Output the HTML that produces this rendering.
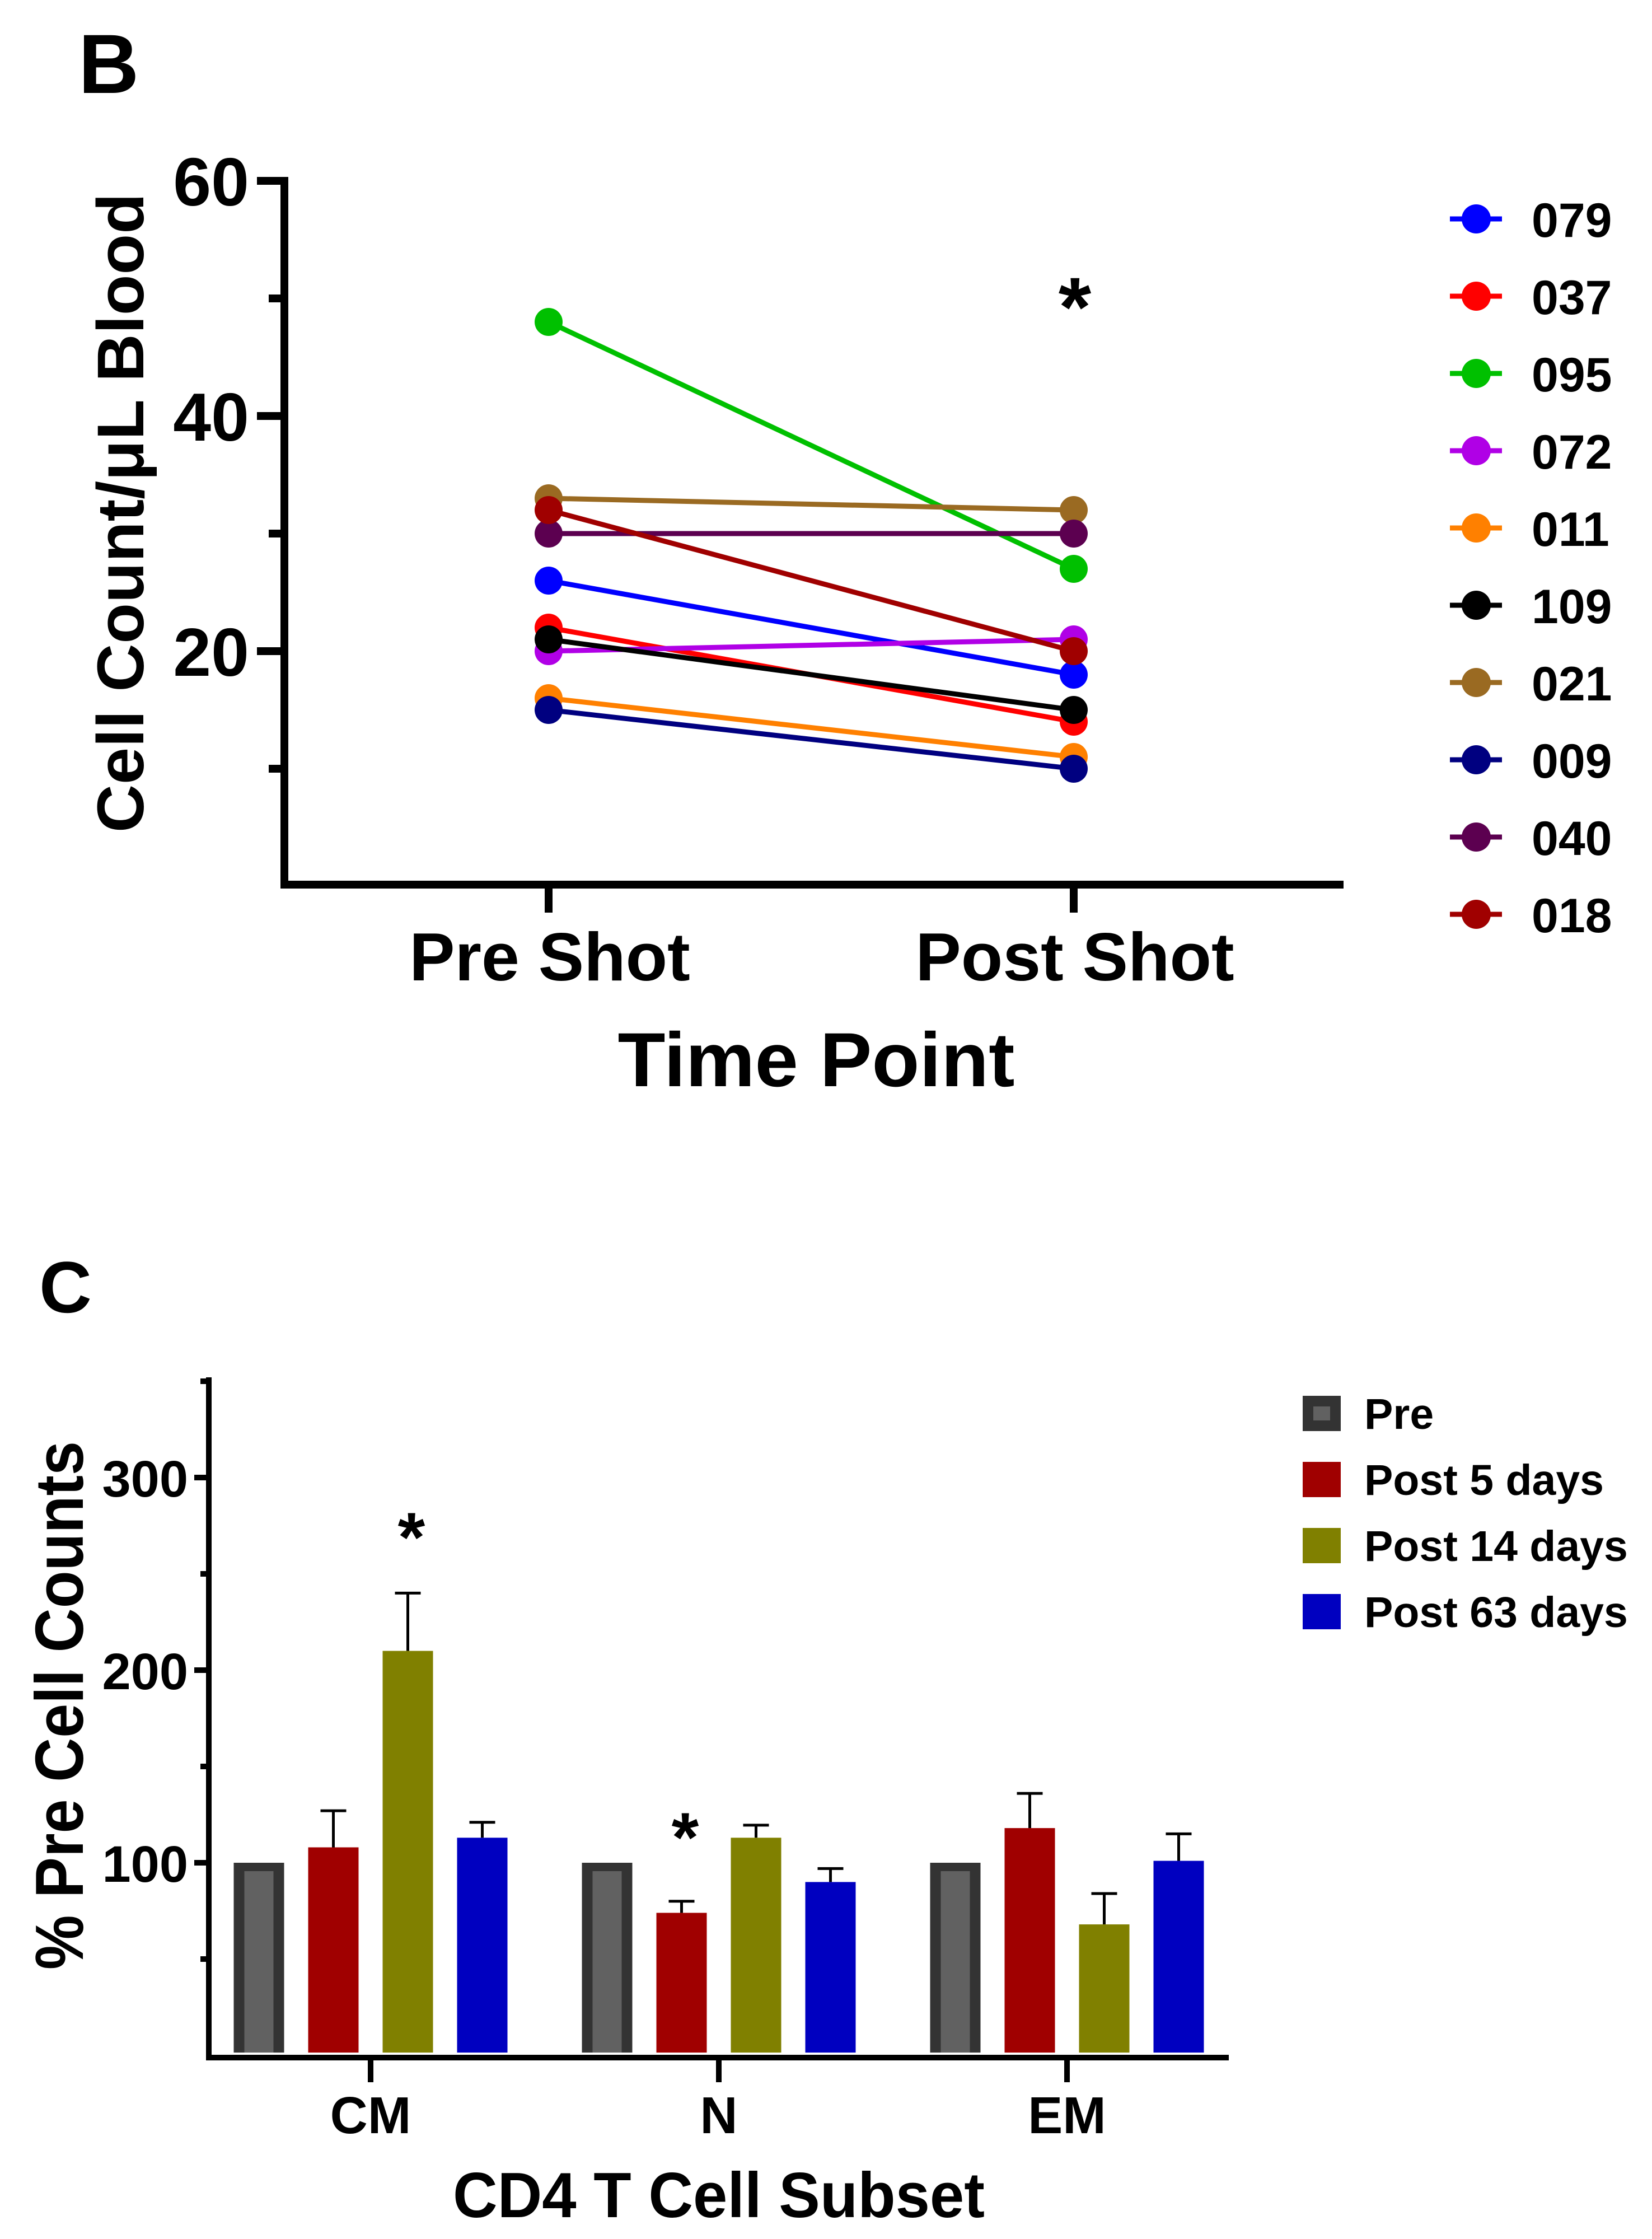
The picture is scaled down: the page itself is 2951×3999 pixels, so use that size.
<!DOCTYPE html>
<html>
<head>
<meta charset="utf-8">
<style>
html,body{margin:0;padding:0;background:#fff;}
svg{display:block;}
text{font-family:"Liberation Sans",Arial,sans-serif;font-weight:bold;fill:#000;}
</style>
</head>
<body>
<svg id="fig" xmlns="http://www.w3.org/2000/svg" width="2951" height="3999" viewBox="0 0 2951 3999">
  <rect x="0" y="0" width="2951" height="3999" fill="#fff"/>
  <g id="panelB">
    <text x="140" y="166" font-size="150">B</text>
    <text transform="translate(256,916) rotate(-90)" text-anchor="middle" font-size="118" textLength="1142" lengthAdjust="spacingAndGlyphs">Cell Count/μL Blood</text>
    <text x="1458" y="1940" text-anchor="middle" font-size="137" textLength="709" lengthAdjust="spacingAndGlyphs">Time Point</text>
    <text x="1920" y="600" text-anchor="middle" font-size="150">*</text>
  </g>
  <g id="panelC">
    <text x="70" y="2344" font-size="130">C</text>
    <text transform="translate(148,3046) rotate(-90)" text-anchor="middle" font-size="122" textLength="944" lengthAdjust="spacingAndGlyphs">% Pre Cell Counts</text>
    <text x="1284" y="3960" text-anchor="middle" font-size="114" textLength="950" lengthAdjust="spacingAndGlyphs">CD4 T Cell Subset</text>
  </g>
</svg>
<script>
// ---------- Panel B data ----------
const bCategories = ["Pre Shot", "Post Shot"];
const bSubjects = ["079","037","095","072","011","109","021","009","040","018"];
const bPre  = [26, 22, 48, 20, 16, 21, 33, 15, 30, 32];
const bPost = [18, 14, 27, 21, 11, 15, 32, 10, 30, 20];
const bColors = ["#0000ff","#ff0000","#00c000","#b000e6","#ff8000","#000000","#9a6a22","#000080","#5c0050","#a00000"];
const bMajorTicks = [20, 40, 60];
const bMinorTicks = [10, 30, 50];

// ---------- Panel C data ----------
const cGroups = ["CM", "N", "EM"];
const cSeries = ["Pre", "Post 5 days", "Post 14 days", "Post 63 days"];
const cPre    = [100, 100, 100];
const cPost5  = [108, 74, 118];
const cPost14 = [210, 113, 68];
const cPost63 = [113, 90, 101];
const cErr5   = [19, 6, 18];
const cErr14  = [30, 6.5, 16];
const cErr63  = [8, 7, 14];
const cColors = ["#333333", "#a00000", "#808000", "#0000c0"];
const cMajorTicks = [100, 200, 300];
const cMinorTicks = [50, 150, 250, 350];

const NS = "http://www.w3.org/2000/svg";
function mk(tag, attrs, parent){
  const e = document.createElementNS(NS, tag);
  for (const k in attrs) e.setAttribute(k, attrs[k]);
  parent.appendChild(e);
  return e;
}

// ---------- Panel B ----------
const gB = document.getElementById("panelB");
const bY = v => 1583 - 21 * v;
const bX = i => [980, 1918][i];

let el;
el = mk("line", {x1:508, y1:316, x2:508, y2:1587, stroke:"#000", "stroke-width":14}, gB);


el = mk("line", {x1:501, y1:1580, x2:2400, y2:1580, stroke:"#000", "stroke-width":14}, gB);



bMajorTicks.forEach(v => {
  const t = mk("line", {x1:459, y1:bY(v), x2:508, y2:bY(v), stroke:"#000", "stroke-width":14}, gB);
  
  
  const l = mk("text", {x:445, y:bY(v)+44, "text-anchor":"end", "font-size":122}, gB);
  l.textContent = String(v);
  
  
});
bMinorTicks.forEach(v => {
  const t = mk("line", {x1:480, y1:bY(v), x2:508, y2:bY(v), stroke:"#000", "stroke-width":14}, gB);
  
  
});
bCategories.forEach((c, i) => {
  const t = mk("line", {x1:bX(i), y1:1580, x2:bX(i), y2:1630, stroke:"#000", "stroke-width":14}, gB);
  
  
  const l = mk("text", {x:bX(i)+2, y:1751, "text-anchor":"middle", "font-size":122}, gB);
  l.textContent = c;
  
  
});

bSubjects.forEach((s, i) => {
  const g = mk("g", {}, gB);
  
  
  const ln = mk("line", {x1:bX(0), y1:bY(bPre[i]), x2:bX(1), y2:bY(bPost[i]), stroke:bColors[i], "stroke-width":9}, g);
  
  
  const p1 = mk("circle", {cx:bX(0), cy:bY(bPre[i]), r:25, fill:bColors[i]}, g);
  
  
  const p2 = mk("circle", {cx:bX(1), cy:bY(bPost[i]), r:25, fill:bColors[i]}, g);
  
  

  const ly = 391 + 138 * i;
  const lg = mk("g", {}, gB);
  
  
  mk("line", {x1:2590, y1:ly, x2:2683, y2:ly, stroke:bColors[i], "stroke-width":9}, lg);
  mk("circle", {cx:2637, cy:ly, r:26, fill:bColors[i]}, lg);
  const lt = mk("text", {x:2736, y:ly+32, "font-size":86}, lg);
  lt.textContent = s;
  
  
});

// ---------- Panel C ----------
const gC = document.getElementById("panelC");
const cY = v => 3671 - 3.44 * v;
const cGroupX = i => 662 + 622 * i;
const barW = 90, barStep = 133;

el = mk("line", {x1:373, y1:2460, x2:373, y2:3680, stroke:"#000", "stroke-width":10}, gC);


el = mk("line", {x1:368, y1:3675, x2:2195, y2:3675, stroke:"#000", "stroke-width":10}, gC);



cMajorTicks.forEach(v => {
  const t = mk("line", {x1:347, y1:cY(v), x2:373, y2:cY(v), stroke:"#000", "stroke-width":10}, gC);
  
  
  const l = mk("text", {x:336, y:cY(v)+34, "text-anchor":"end", "font-size":92}, gC);
  l.textContent = String(v);
  
  
});
cMinorTicks.forEach(v => {
  const t = mk("line", {x1:358, y1:cY(v), x2:373, y2:cY(v), stroke:"#000", "stroke-width":10}, gC);
  
  
});

const cVals = [cPre, cPost5, cPost14, cPost63];
const cErrs = [null, cErr5, cErr14, cErr63];
cGroups.forEach((g, gi) => {
  const cx = cGroupX(gi);
  const t = mk("line", {x1:cx, y1:3675, x2:cx, y2:3719, stroke:"#000", "stroke-width":10}, gC);
  
  
  const l = mk("text", {x:cx, y:3810, "text-anchor":"middle", "font-size":93}, gC);
  l.textContent = g;
  
  

  cSeries.forEach((s, si) => {
    const v = cVals[si][gi];
    const x0 = cx - 1.5 * barStep + si * barStep - barW / 2;
    const top = cY(v), h = cY(0) - cY(v) - 5;
    if (si === 0) {
      const b = mk("rect", {x:x0, y:top, width:barW, height:h, fill:"#333333"}, gC);
      
      
      const inner = mk("rect", {x:x0+19, y:top+15, width:barW-38, height:h-15, fill:"#616161"}, gC);
      
      
    } else {
      const e = cErrs[si][gi];
      const ex = x0 + barW / 2;
      const eb = mk("line", {x1:ex, y1:top, x2:ex, y2:cY(v + e), stroke:"#000", "stroke-width":5}, gC);
      
      
      const cap = mk("line", {x1:ex-23, y1:cY(v + e), x2:ex+23, y2:cY(v + e), stroke:"#000", "stroke-width":5}, gC);
      
      
      const b = mk("rect", {x:x0, y:top, width:barW, height:h, fill:cColors[si]}, gC);
      
      
    }
  });
});

// significance asterisks for panel C
let a1 = mk("text", {x:735, y:2789, "text-anchor":"middle", "font-size":125}, gC);
a1.textContent = "*";


let a2 = mk("text", {x:1224, y:3325, "text-anchor":"middle", "font-size":125}, gC);
a2.textContent = "*";



// legend C
cSeries.forEach((s, si) => {
  const ly = 2493 + 118 * si;
  const lg = mk("g", {}, gC);
  
  
  mk("rect", {x:2327, y:ly, width:68, height:63, fill:cColors[si]}, lg);
  if (si === 0) mk("rect", {x:2346, y:ly+19, width:30, height:25, fill:"#616161"}, lg);
  const lt = mk("text", {x:2437, y:ly+59, "font-size":77}, lg);
  lt.textContent = s;
  
  
});
</script>
</body>
</html>
